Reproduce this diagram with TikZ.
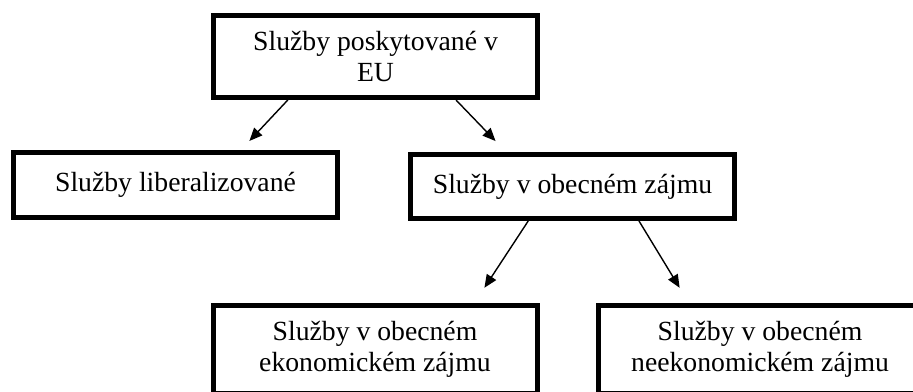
\documentclass[tikz,border=0pt]{standalone}
\usepackage{fontspec}
\setmainfont{Liberation Serif}
\usetikzlibrary{arrows.meta}
\begin{document}
\begin{tikzpicture}[x=0.5pt,y=-0.5pt,
  box/.style={draw, line width=2.5pt, minimum width=162pt, align=center, inner sep=0pt,
    font=\fontsize{13.85pt}{15.5pt}\selectfont},
  arr/.style={line width=0.7pt, -{Triangle[length=6.5pt,width=5.5pt]}}]
\useasboundingbox (0,0) rectangle (913,391);
\clip (0,0) rectangle (913,391);
\node[box, minimum height=41pt] (top) at (375.5,56.5) {Služby poskytované v\\EU};
\node[box, minimum height=32.5pt] (lib) at (175.5,185) {Služby liberalizované};
\node[box, minimum height=32pt] (obe) at (572.5,186.5) {Služby v obecném zájmu};
\node[box, minimum height=44pt] (eko) at (375,349.5) {Služby v obecném\\ekonomickém zájmu};
\node[box, minimum height=44pt] (nee) at (760,349.5) {Služby v obecném\\neekonomickém zájmu};
\coordinate (x1) at (287.8,0);
\coordinate (x2) at (240.9,0);
\coordinate (x3) at (456,0);
\coordinate (x4) at (506.1,0);
\coordinate (x5) at (528.2,0);
\coordinate (x6) at (474.4,0);
\coordinate (x7) at (639,0);
\coordinate (x8) at (688.9,0);
\draw[arr, shorten >=6.2pt] (top.south -| x1) -- (lib.north -| x2);
\draw[arr, shorten >=7.6pt] (top.south -| x3) -- (obe.north -| x4);
\draw[arr, shorten >=9.1pt] (obe.south -| x5) -- (eko.north -| x6);
\draw[arr, shorten >=8.9pt] (obe.south -| x7) -- (nee.north -| x8);
\end{tikzpicture}
\end{document}
